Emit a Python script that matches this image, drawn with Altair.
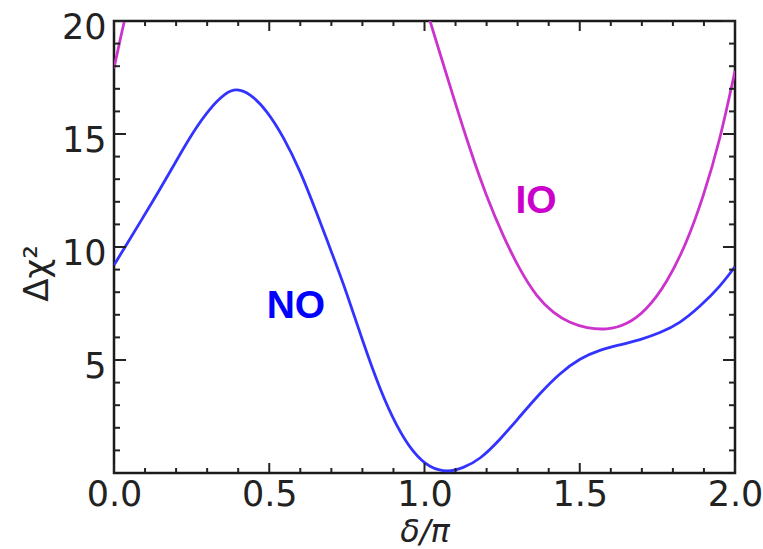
import altair as alt
import pandas as pd

# Normal ordering (NO) curve: delta/pi vs delta chi^2
no_delta = [0.0, 0.04, 0.095, 0.148, 0.202, 0.255, 0.309, 0.362, 0.394, 0.438,
            0.492, 0.545, 0.599, 0.653, 0.70, 0.749, 0.803, 0.857, 0.910, 0.964,
            1.017, 1.075, 1.124, 1.178, 1.243, 1.307, 1.372, 1.436, 1.501, 1.565,
            1.630, 1.694, 1.758, 1.823, 1.887, 1.952, 2.0]
no_chi2 = [9.2, 10.1, 11.34, 12.55, 13.85, 15.1, 16.15, 16.85, 17.01, 16.8,
           16.05, 14.9, 13.4, 11.5, 9.8, 8.0, 5.74, 3.68, 2.06, 0.88,
           0.22, 0.03, 0.22, 0.59, 1.47, 2.5, 3.53, 4.42, 5.08, 5.45,
           5.67, 5.89, 6.19, 6.63, 7.36, 8.25, 9.13]

# Inverted ordering (IO) curve, two visible pieces below the top of the frame
io_delta_left = [0.0, 0.02, 0.045]
io_chi2_left = [17.9, 19.2, 20.7]
io_delta_right = [0.985, 1.017, 1.05, 1.093, 1.147, 1.2, 1.254, 1.307, 1.361, 1.415,
                  1.469, 1.522, 1.586, 1.651, 1.716, 1.78, 1.844, 1.898, 1.952, 2.0]
io_chi2_right = [21.5, 20.03, 18.56, 16.64, 14.29, 12.22, 10.46, 8.98, 7.8, 7.07,
                 6.63, 6.41, 6.33, 6.55, 7.22, 8.4, 10.16, 12.22, 14.73, 17.8]

# Curve labels
label_text = ["NO", "IO"]
label_delta = [0.586, 1.359]
label_chi2 = [7.4, 12.05]
label_color = ["#0000ff", "#cc00cc"]

# Tick positions for the frame
x_major = [0.0, 0.5, 1.0, 1.5, 2.0]
x_minor = [0.1, 0.2, 0.3, 0.4, 0.6, 0.7, 0.8, 0.9, 1.1, 1.2, 1.3, 1.4,
           1.6, 1.7, 1.8, 1.9]
y_major = [5, 10, 15, 20]
y_minor = [1, 2, 3, 4, 6, 7, 8, 9, 11, 12, 13, 14, 16, 17, 18, 19]

W, H = 621, 452
FONT = "DejaVu Sans"
INK = "#222222"

xs = alt.Scale(domain=[0, 2], nice=False, zero=False)
ys = alt.Scale(domain=[0, 20], nice=False, zero=False)

no_df = pd.DataFrame({"delta": no_delta, "chi2": no_chi2})
io_df = pd.concat([
    pd.DataFrame({"delta": io_delta_left, "chi2": io_chi2_left, "seg": "a"}),
    pd.DataFrame({"delta": io_delta_right, "chi2": io_chi2_right, "seg": "b"}),
])
lab_df = pd.DataFrame({"text": label_text, "delta": label_delta,
                       "chi2": label_chi2, "color": label_color})

x_axis = alt.Axis(values=x_major, format=".1f", ticks=False, tickSize=0, domain=False,
                  grid=False, labelFont=FONT, labelFontSize=35, labelColor=INK,
                  labelPadding=4, labelFlush=False, title="δ/π", titleFont=FONT,
                  titleFontSize=32, titleFontStyle="italic", titleFontWeight="normal",
                  titleColor=INK, titleY=68, titleBaseline="alphabetic")
y_axis = alt.Axis(values=y_major, format="d", ticks=False, tickSize=0, domain=False,
                  grid=False, labelFont=FONT, labelFontSize=35, labelColor=INK,
                  labelPadding=8, labelOffset=6, labelFlush=False, title="Δχ²",
                  titleFont=FONT, titleFontSize=34, titleFontWeight="normal",
                  titleColor=INK, titleX=-67, titleY=252, titleAngle=-90,
                  titleBaseline="alphabetic", titleAlign="center")

no_line = alt.Chart(no_df).mark_line(
    color="#3333ff", strokeWidth=2.8, clip=True, interpolate="basis"
).encode(
    x=alt.X("delta:Q", scale=xs, axis=x_axis),
    y=alt.Y("chi2:Q", scale=ys, axis=y_axis),
)

io_line = alt.Chart(io_df).mark_line(
    color="#cc33cc", strokeWidth=2.8, clip=True, interpolate="basis"
).encode(
    x=alt.X("delta:Q", scale=xs),
    y=alt.Y("chi2:Q", scale=ys),
    detail="seg:N",
)

labels = alt.Chart(lab_df).mark_text(
    font="Liberation Sans", fontSize=39, fontWeight="bold", baseline="middle", align="center"
).encode(
    x=alt.X("delta:Q", scale=xs),
    y=alt.Y("chi2:Q", scale=ys),
    text="text:N",
    color=alt.Color("color:N", scale=None),
)


def x_ticks(vals, length, top):
    d = pd.DataFrame({"delta": vals})
    y0, y1 = (0, length) if top else (H, H - length)
    return alt.Chart(d).mark_rule(color=INK, strokeWidth=2).encode(
        x=alt.X("delta:Q", scale=xs), y=alt.value(y0), y2=alt.value(y1)
    )


def y_ticks(vals, length, right):
    d = pd.DataFrame({"chi2": vals})
    x0, x1 = (W, W - length) if right else (0, length)
    return alt.Chart(d).mark_rule(color=INK, strokeWidth=2).encode(
        y=alt.Y("chi2:Q", scale=ys), x=alt.value(x0), x2=alt.value(x1)
    )


ticks = [
    x_ticks(x_major, 10, False), x_ticks(x_minor, 5, False),
    x_ticks(x_major, 10, True), x_ticks(x_minor, 5, True),
    y_ticks(y_major, 12, False), y_ticks(y_minor, 6, False),
    y_ticks(y_major, 12, True), y_ticks(y_minor, 6, True),
]

chart = alt.layer(no_line, io_line, labels, *ticks).properties(
    width=W, height=H,
    autosize=alt.AutoSizeParams(type="none"),
    padding={"left": 114, "top": 21, "right": 28, "bottom": 76},
    background="white",
).configure_view(stroke="#1a1a1a", strokeWidth=2.5)

chart.save("out.html", embed_options={"renderer": "svg", "actions": False})
